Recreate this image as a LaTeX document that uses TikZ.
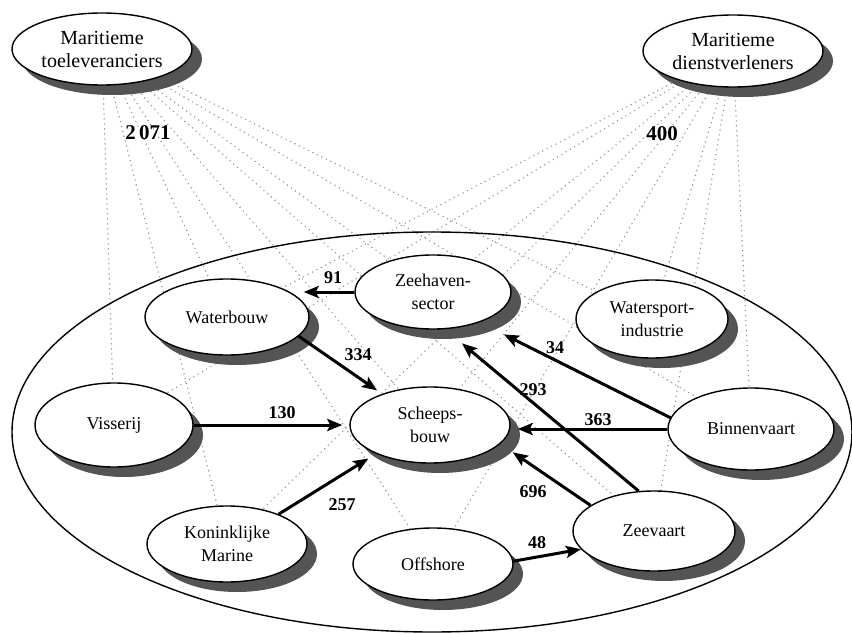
\documentclass[tikz,border=0pt]{standalone}
\usepackage{fontspec}
\setmainfont{Liberation Serif}
\usetikzlibrary{shapes.geometric,arrows.meta,shadows,backgrounds}
\definecolor{shadowgray}{rgb}{0.33,0.33,0.33}
\definecolor{dotgray}{rgb}{0.58,0.58,0.58}
\begin{document}
\begin{tikzpicture}[x=1pt,y=-1pt,
  sector/.style={ellipse, draw, line width=1.4pt, fill=white, inner sep=0pt,
    align=center, font=\fontsize{18}{23}\selectfont,
    drop shadow={shadow xshift=10pt, shadow yshift=-10pt, opacity=1, fill=shadowgray}},
  group/.style={sector, font=\fontsize{20}{23}\selectfont},
  flow/.style={line width=3pt, -{Stealth[length=15pt,width=12pt,inset=3pt]}},
  amount/.style={font=\bfseries\fontsize{18}{20}\selectfont, inner sep=0pt},
  total/.style={font=\bfseries\fontsize{21}{22}\selectfont, inner sep=0pt},
  link/.style={draw=dotgray, line width=1.6pt, line cap=round, dash pattern=on 0pt off 5pt}
]
\useasboundingbox (0,0) rectangle (852,634);

% the maritime cluster
\draw[line width=1.4pt] (432,432) ellipse [x radius=420, y radius=200];

% supplier and service groups
\node[group, minimum width=180pt, minimum height=72pt] (toe) at (102,49) {Maritieme\\toeleveranciers};
\node[group, minimum width=180pt, minimum height=72pt] (dien) at (733,51) {Maritieme\\dienstverleners};

% sectors
\node[sector, minimum width=156pt, minimum height=74pt] (zeh) at (433,292) {Zeehaven-\\sector};
\node[sector, minimum width=164pt, minimum height=76pt] (wat) at (227,317) {Waterbouw};
\node[sector, minimum width=152pt, minimum height=78pt] (wsp) at (652,319) {Watersport-\\industrie};
\node[sector, minimum width=158pt, minimum height=84pt] (vis) at (114,425) {Visserij};
\node[sector, minimum width=160pt, minimum height=76pt] (sch) at (430,425) {Scheeps-\\bouw};
\node[sector, minimum width=166pt, minimum height=82pt] (bin) at (751,429) {Binnenvaart};
\node[sector, minimum width=160pt, minimum height=76pt] (mar) at (227,544) {Koninklijke\\Marine};
\node[sector, minimum width=160pt, minimum height=72pt] (off) at (433,564) {Offshore};
\node[sector, minimum width=162pt, minimum height=80pt] (zv) at (654,531) {Zeevaart};

% dotted links from both groups to every sector
\begin{scope}[on background layer]
  \foreach \s in {zeh,wat,wsp,vis,sch,bin,mar,off,zv} {
    \draw[link] (toe.center) -- (\s.center);
    \draw[link] (dien.center) -- (\s.center);
  }
\end{scope}

% flows between sectors
\draw[flow, shorten >=-6pt] (zeh.west) -- (zeh.west -| wat.east);
\draw[flow, shorten >=6pt] (wat.-15) -- (sch.147);
\draw[flow, shorten >=7pt] (vis.east) -- (sch.west);
\draw[flow, shorten >=9pt] (mar.30) -- (sch.208);
\draw[flow] (off.2) -- (zv.194);
\draw[flow, shorten >=15pt] (zv.158) -- (sch.-15);
\draw[flow, shorten >=7pt] (bin.west) -- (bin.west -| sch.east);
\draw[flow, shorten >=27pt] (bin.172) -- (zeh.-33);
\draw[flow, shorten >=22pt] (zv.111) -- (zeh.-72);

% amounts
\node[total] (t1) at (148,133) {2\,071};
\node[total] (t2) at (662,134) {400};
\node[amount] (a91) at (333,278) {91};
\node[amount] (a334) at (358,355) {334};
\node[amount] (a130) at (282,413) {130};
\node[amount] (a257) at (342,505) {257};
\node[amount] (a48) at (537,543) {48};
\node[amount] (a696) at (533,492) {696};
\node[amount] (a363) at (598,420) {363};
\node[amount] (a34) at (555,348) {34};
\node[amount] (a293) at (533,390) {293};
\end{tikzpicture}
\end{document}
